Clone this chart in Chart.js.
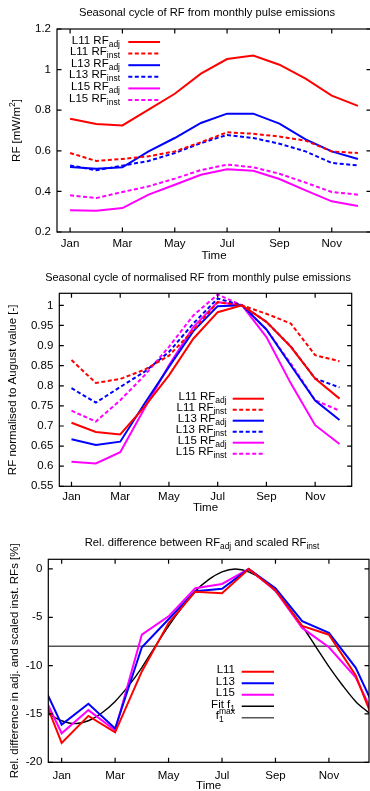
<!DOCTYPE html>
<html>
<head>
<meta charset="utf-8">
<script src="https://cdn.jsdelivr.net/npm/chart.js@4.4.1/dist/chart.umd.min.js"></script>
<style>
  html, body { margin: 0; padding: 0; background: #fff; overflow: hidden; width: 370px; height: 791px; }
  canvas { position: absolute; left: 0; }
</style>
</head>
<body>
<canvas id="c1" width="380" height="265" style="top:0px"></canvas>
<canvas id="c2" width="370" height="265" style="top:265px"></canvas>
<canvas id="c3" width="370" height="261" style="top:530px"></canvas>
<script>
// ---- data ----
var monthNums = [1, 2, 3, 4, 5, 6, 7, 8, 9, 10, 11, 12];
var monthNames = ['Jan', 'Feb', 'Mar', 'Apr', 'May', 'Jun', 'Jul', 'Aug', 'Sep', 'Oct', 'Nov', 'Dec'];
var xTickMonths = [1, 3, 5, 7, 9, 11];

// chart 1: RF [mW/m2]
var l11Adj  = [0.758, 0.732, 0.725, 0.803, 0.881, 0.980, 1.052, 1.069, 1.024, 0.955, 0.872, 0.821];
var l11Inst = [0.589, 0.550, 0.560, 0.573, 0.597, 0.642, 0.691, 0.684, 0.670, 0.650, 0.597, 0.589];
var l13Adj  = [0.520, 0.512, 0.519, 0.597, 0.663, 0.737, 0.783, 0.783, 0.734, 0.656, 0.597, 0.560];
var l13Inst = [0.528, 0.504, 0.527, 0.550, 0.589, 0.638, 0.678, 0.663, 0.635, 0.597, 0.540, 0.528];
var l15Adj  = [0.307, 0.305, 0.318, 0.384, 0.433, 0.482, 0.509, 0.502, 0.461, 0.405, 0.351, 0.328];
var l15Inst = [0.381, 0.367, 0.397, 0.425, 0.463, 0.505, 0.532, 0.519, 0.487, 0.443, 0.397, 0.384];
var yTicks1 = [0.2, 0.4, 0.6, 0.8, 1, 1.2];

// chart 2: normalised to August
var n11Adj  = [0.708, 0.685, 0.679, 0.748, 0.826, 0.917, 0.983, 1.0, 0.959, 0.897, 0.818, 0.768];
var n11Inst = [0.864, 0.807, 0.817, 0.840, 0.875, 0.938, 1.008, 1.0, 0.979, 0.955, 0.876, 0.861];
var n13Adj  = [0.667, 0.653, 0.661, 0.756, 0.847, 0.936, 0.998, 1.0, 0.940, 0.851, 0.763, 0.715];
var n13Inst = [0.794, 0.758, 0.797, 0.835, 0.884, 0.955, 1.017, 1.0, 0.959, 0.898, 0.818, 0.796];
var n15Adj  = [0.611, 0.607, 0.635, 0.744, 0.851, 0.946, 1.008, 1.0, 0.921, 0.806, 0.702, 0.655];
var n15Inst = [0.738, 0.711, 0.764, 0.826, 0.897, 0.975, 1.027, 1.0, 0.940, 0.855, 0.764, 0.738];
var yTicks2 = [0.55, 0.6, 0.65, 0.7, 0.75, 0.8, 0.85, 0.9, 0.95, 1];

// chart 3: relative difference [%], Dec of previous year and Jan of next year at both ends
var monthNumsWrap = [0, 1, 2, 3, 4, 5, 6, 7, 8, 9, 10, 11, 12, 13];
var d11 = [-11.0, -18.0, -15.2, -16.9, -10.6, -5.6, -2.35, -2.5, 0, -2.2, -5.9, -6.8, -11.0, -18.0];
var d13 = [-10.2, -16.1, -13.95, -16.5, -8.1, -5.2, -2.3, -2.05, 0, -2.0, -5.4, -6.6, -10.2, -16.1];
var d15 = [-11.2, -17.0, -14.6, -16.7, -6.8, -4.9, -2.0, -1.55, 0, -2.25, -6.1, -8.1, -11.2, -17.0];
var fitMonths = [0.5, 1, 1.5, 2, 2.5, 3, 3.5, 4, 4.5, 5, 5.5, 6, 6.5, 7, 7.5, 8, 8.5, 9, 9.5, 10, 10.5, 11, 11.5, 12, 12.5];
var fitF1 = [-15.0, -15.7, -16.0, -15.7, -14.9, -13.7, -12.1, -10.2, -8.0, -5.9, -4.0, -2.3, -1.1, -0.3, 0.0, -0.3, -1.1, -2.3, -4.0, -5.9, -8.0, -10.1, -12.0, -13.7, -14.9];
var f1MaxMonths = [0.5, 12.5];
var f1Max = [-8, -8];
var yTicks3 = [-20, -15, -10, -5, 0];

var legend1 = ['L11 RF_{adj}', 'L11 RF_{inst}', 'L13 RF_{adj}', 'L13 RF_{inst}', 'L15 RF_{adj}', 'L15 RF_{inst}'];
var legend3 = ['L11', 'L13', 'L15', 'Fit f_{1}', 'f_{1}^{max}'];

var RED = '#ff0000', BLUE = '#0000ff', MAG = '#ff00ff';
var FONT = '"Liberation Sans", Arial, sans-serif';
var FS = 11.5;

Chart.defaults.color = '#000';
Chart.defaults.font.family = FONT;
Chart.defaults.font.size = FS;

function pts(xs, ys) {
  return ys.map(function (v, i) { return { x: xs[i], y: v }; });
}

// draw text with _{sub} and ^{sup}
function drawRich(ctx, str, x, y, align, size) {
  var re = /(_|\^)\{([^}]*)\}|([^_^]+)/g, m, toks = [];
  while ((m = re.exec(str)) !== null) {
    if (m[3]) toks.push({ t: m[3], k: 'n' });
    else toks.push({ t: m[2], k: m[1] == '_' ? 'sub' : 'sup' });
  }
  var small = size * 0.74;
  var total = 0, pos = [], cur = 0, lastSubStart = null, lastSubW = 0;
  toks.forEach(function (tk) {
    ctx.font = (tk.k == 'n' ? size : small) + 'px ' + FONT;
    var w = ctx.measureText(tk.t).width;
    if (tk.k == 'sup' && lastSubStart !== null) {
      pos.push(lastSubStart);
      cur = lastSubStart + Math.max(w, lastSubW);
      lastSubStart = null;
    } else {
      pos.push(cur);
      if (tk.k == 'sub') { lastSubStart = cur; lastSubW = w; } else lastSubStart = null;
      cur += w;
    }
    total = Math.max(total, cur);
  });
  var x0 = align == 'right' ? x - total : align == 'center' ? x - total / 2 : x;
  ctx.textBaseline = 'middle';
  ctx.textAlign = 'left';
  ctx.fillStyle = '#000';
  toks.forEach(function (tk, i) {
    var dy = tk.k == 'sub' ? size * 0.32 : tk.k == 'sup' ? -size * 0.38 : 0;
    ctx.font = (tk.k == 'n' ? size : small) + 'px ' + FONT;
    ctx.fillText(tk.t, x0 + pos[i], y + dy);
  });
}

var gpPlugin = {
  id: 'gp',
  afterDraw: function (chart, args, o) {
    var ctx = chart.ctx, a = chart.chartArea;
    var xs = chart.scales.x, ys = chart.scales.y;
    ctx.save();
    // frame with inward ticks
    ctx.strokeStyle = '#000';
    ctx.lineWidth = 1.2;
    ctx.setLineDash([]);
    ctx.strokeRect(a.left, a.top, a.right - a.left, a.bottom - a.top);
    ctx.beginPath();
    xs.ticks.forEach(function (t) {
      var px = xs.getPixelForValue(t.value);
      ctx.moveTo(px, a.bottom); ctx.lineTo(px, a.bottom - 4.5);
      ctx.moveTo(px, a.top); ctx.lineTo(px, a.top + 4.5);
    });
    ys.ticks.forEach(function (t) {
      var py = ys.getPixelForValue(t.value);
      ctx.moveTo(a.left, py); ctx.lineTo(a.left + 4.5, py);
      ctx.moveTo(a.right, py); ctx.lineTo(a.right - 4.5, py);
    });
    ctx.stroke();

    drawRich(ctx, o.title.text, o.title.x, o.title.y, 'center', o.title.size || FS);
    drawRich(ctx, o.xlabel.text, (a.left + a.right) / 2, o.xlabel.y, 'center', FS);
    ctx.save();
    ctx.translate(o.ylabel.x, (a.top + a.bottom) / 2);
    ctx.rotate(-Math.PI / 2);
    drawRich(ctx, o.ylabel.text, 0, 0, 'center', FS);
    ctx.restore();

    // legend
    var L = o.legend;
    L.labels.forEach(function (lab, i) {
      var ds = chart.data.datasets[i];
      var y = L.y0 + i * L.dy;
      drawRich(ctx, lab, L.right, y - 1.5, 'right', FS);
      ctx.beginPath();
      ctx.strokeStyle = ds.borderColor;
      ctx.lineWidth = ds.borderWidth;
      ctx.setLineDash(ds.borderDash || []);
      ctx.moveTo(L.x0, y); ctx.lineTo(L.x1, y);
      ctx.stroke();
    });
    ctx.restore();
  }
};

function lineDs(data, color, dashed, width) {
  return {
    data: data, borderColor: color, borderWidth: width || 2,
    borderDash: dashed ? [4, 2.5] : [], pointRadius: 0, tension: 0, clip: 0, fill: false
  };
}

function makeOptions(cfg) {
  return {
    responsive: false,
    animation: false,
    events: [],
    layout: { padding: cfg.padding },
    plugins: { legend: { display: false }, tooltip: { enabled: false }, gp: cfg.gp },
    scales: {
      x: {
        type: 'linear', min: 0.5, max: 12.5,
        grid: { display: false, drawTicks: false }, border: { display: false },
        afterBuildTicks: function (s) { s.ticks = xTickMonths.map(function (v) { return { value: v }; }); },
        afterFit: function (s) { s.height = 20; },
        ticks: { autoSkip: false, maxRotation: 0, padding: cfg.xpad,
          callback: function (v) { return monthNames[v - 1]; } }
      },
      y: {
        type: 'linear', min: cfg.ymin, max: cfg.ymax,
        grid: { display: false, drawTicks: false }, border: { display: false },
        afterBuildTicks: function (s) { s.ticks = cfg.yticks.map(function (v) { return { value: v }; }); },
        afterFit: function (s) { s.width = cfg.yw; },
        ticks: { padding: 6, callback: function (v) { return String(v); } }
      }
    }
  };
}

new Chart('c1', {
  type: 'line',
  data: {
    datasets: [
      lineDs(pts(monthNums, l11Adj), RED, false),
      lineDs(pts(monthNums, l11Inst), RED, true),
      lineDs(pts(monthNums, l13Adj), BLUE, false),
      lineDs(pts(monthNums, l13Inst), BLUE, true),
      lineDs(pts(monthNums, l15Adj), MAG, false),
      lineDs(pts(monthNums, l15Inst), MAG, true)
    ]
  },
  options: makeOptions({
    padding: { left: 0, top: 29, right: 9, bottom: 13 },
    yw: 57, ymin: 0.2, ymax: 1.2, yticks: yTicks1, xpad: 5,
    gp: {
      title: { text: 'Seasonal cycle of RF from monthly pulse emissions', x: 207, y: 12.5, size: 11.2 },
      xlabel: { text: 'Time', y: 256 },
      ylabel: { text: 'RF [mW/m^{2}]', x: 17 },
      legend: { labels: legend1, right: 120, x0: 128.3, x1: 160, y0: 42, dy: 11.6 }
    }
  }),
  plugins: [gpPlugin]
});

new Chart('c2', {
  type: 'line',
  data: {
    datasets: [
      lineDs(pts(monthNums, n11Adj), RED, false),
      lineDs(pts(monthNums, n11Inst), RED, true),
      lineDs(pts(monthNums, n13Adj), BLUE, false),
      lineDs(pts(monthNums, n13Inst), BLUE, true),
      lineDs(pts(monthNums, n15Adj), MAG, false),
      lineDs(pts(monthNums, n15Inst), MAG, true)
    ]
  },
  options: makeOptions({
    padding: { left: 0, top: 28.3, right: 18.3, bottom: 23.7 },
    yw: 59.3, ymin: 0.55, ymax: 1.03, yticks: yTicks2, xpad: 3.5,
    gp: {
      title: { text: 'Seasonal cycle of normalised RF from monthly pulse emissions', x: 198, y: 12.7, size: 10.9 },
      xlabel: { text: 'Time', y: 242.7 },
      ylabel: { text: 'RF normalised to August value [-]', x: 13.3 },
      legend: { labels: legend1, right: 226.7, x0: 232.7, x1: 264, y0: 133.7, dy: 11 }
    }
  }),
  plugins: [gpPlugin]
});

new Chart('c3', {
  type: 'line',
  data: {
    datasets: [
      lineDs(pts(monthNumsWrap, d11), RED, false),
      lineDs(pts(monthNumsWrap, d13), BLUE, false),
      lineDs(pts(monthNumsWrap, d15), MAG, false),
      Object.assign(lineDs(pts(fitMonths, fitF1), '#000', false, 1.4), { cubicInterpolationMode: 'monotone' }),
      lineDs(pts(f1MaxMonths, f1Max), '#555', false, 1.5)
    ]
  },
  options: makeOptions({
    padding: { left: 0, top: 29.3, right: 1, bottom: 8.7 },
    yw: 48.3, ymin: -20, ymax: 1, yticks: yTicks3, xpad: 6.5,
    gp: {
      title: { text: 'Rel. difference between RF_{adj} and scaled RF_{inst}', x: 202, y: 13.3, size: 11.2 },
      xlabel: { text: 'Time', y: 256 },
      ylabel: { text: 'Rel. difference in adj. and scaled inst. RFs [%]', x: 15 },
      legend: { labels: legend3, right: 235, x0: 241.7, x1: 274, y0: 141.7, dy: 11.5 }
    }
  }),
  plugins: [gpPlugin]
});
</script>
</body>
</html>
